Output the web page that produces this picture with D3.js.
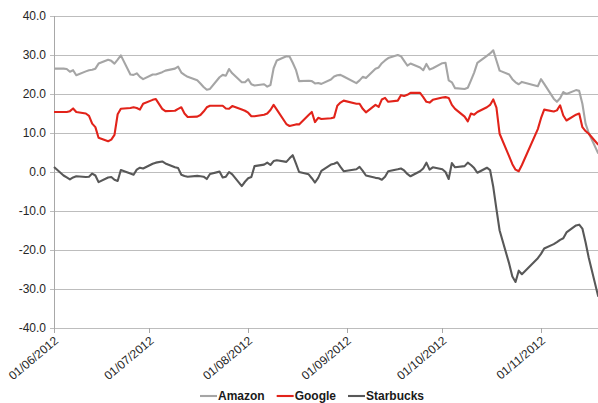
<!DOCTYPE html>
<html>
<head>
<meta charset="utf-8">
<script src="https://cdn.jsdelivr.net/npm/d3@7"></script>
<style>
  body { margin: 0; background: #fff; }
  svg { display: block; font-family: "Liberation Sans", Arial, sans-serif; }
</style>
</head>
<body>
<svg id="chart"></svg>
<script>
// trading days, one row per month
const dates = [
  "2012-06-01","2012-06-04","2012-06-05","2012-06-06","2012-06-07","2012-06-08","2012-06-11","2012-06-12","2012-06-13","2012-06-14","2012-06-15","2012-06-18","2012-06-19","2012-06-20","2012-06-21","2012-06-22","2012-06-25","2012-06-26","2012-06-27","2012-06-28","2012-06-29",
  "2012-07-02","2012-07-03","2012-07-05","2012-07-06","2012-07-09","2012-07-10","2012-07-11","2012-07-12","2012-07-13","2012-07-16","2012-07-17","2012-07-18","2012-07-19","2012-07-20","2012-07-23","2012-07-24","2012-07-25","2012-07-26","2012-07-27","2012-07-30","2012-07-31",
  "2012-08-01","2012-08-02","2012-08-03","2012-08-06","2012-08-07","2012-08-08","2012-08-09","2012-08-10","2012-08-13","2012-08-14","2012-08-15","2012-08-16","2012-08-17","2012-08-20","2012-08-21","2012-08-22","2012-08-23","2012-08-24","2012-08-27","2012-08-28","2012-08-29","2012-08-30","2012-08-31",
  "2012-09-04","2012-09-05","2012-09-06","2012-09-07","2012-09-10","2012-09-11","2012-09-12","2012-09-13","2012-09-14","2012-09-17","2012-09-18","2012-09-19","2012-09-20","2012-09-21","2012-09-24","2012-09-25","2012-09-26","2012-09-27","2012-09-28",
  "2012-10-01","2012-10-02","2012-10-03","2012-10-04","2012-10-05","2012-10-08","2012-10-09","2012-10-10","2012-10-11","2012-10-12","2012-10-15","2012-10-16","2012-10-17","2012-10-18","2012-10-19","2012-10-22","2012-10-23","2012-10-24","2012-10-25","2012-10-26","2012-10-31",
  "2012-11-01","2012-11-02","2012-11-05","2012-11-06","2012-11-07","2012-11-08","2012-11-09","2012-11-12","2012-11-13","2012-11-14","2012-11-15","2012-11-16","2012-11-19"
];

const amazon = [
  26.5,26.5,26.4,25.7,26.1,24.8,25.8,26.1,26.2,26.5,27.8,28.8,28.5,27.8,28.8,29.9,25.0,24.9,25.3,24.4,23.8,
  25.0,25.0,25.6,26.0,26.5,27.0,25.5,24.9,24.4,23.5,22.7,21.8,21.1,21.3,24.3,24.9,24.7,26.4,25.3,23.0,23.0,
  23.8,22.5,22.2,22.5,21.9,22.3,26.6,28.6,29.7,29.6,28.0,26.2,23.3,23.4,23.3,22.7,22.8,22.6,23.7,24.5,24.8,24.9,24.5,
  22.8,23.5,24.4,24.1,26.5,26.8,27.9,28.6,29.2,30.0,29.7,28.5,27.3,27.8,26.8,26.1,27.7,26.3,26.6,
  27.9,28.0,23.5,23.0,21.5,21.3,21.6,23.5,25.5,28.0,29.8,30.4,31.2,28.6,26.0,25.0,23.8,23.0,22.5,23.1,22.0,
  23.8,22.6,18.8,18.0,18.9,20.5,20.0,21.0,20.8,17.5,12.4,10.0,4.7
];

const google = [
  15.4,15.4,15.4,15.6,16.3,15.4,15.0,14.4,12.4,11.5,8.8,7.9,8.3,9.5,14.8,16.2,16.4,16.6,16.4,16.0,17.5,
  18.5,18.7,16.2,15.6,15.7,16.2,16.6,15.0,14.1,14.2,14.6,15.5,16.6,17.0,17.0,17.0,16.3,16.2,16.9,16.0,15.7,
  15.2,14.3,14.3,14.7,15.0,15.9,17.2,16.0,12.3,11.8,12.0,12.2,12.2,14.6,15.4,12.8,13.9,13.6,13.8,14.0,17.0,17.8,18.3,
  17.5,17.5,16.2,15.3,17.2,16.7,18.6,19.0,18.0,18.3,19.7,19.5,19.8,20.3,20.3,19.2,18.0,17.8,18.5,
  19.1,19.2,19.0,17.2,16.2,14.2,13.0,15.0,14.7,15.4,16.6,17.2,18.6,16.5,9.8,4.0,2.0,0.6,0.2,1.8,11.0,
  13.8,16.0,15.5,15.8,17.1,14.5,13.2,14.7,15.0,11.5,10.5,9.8,7.0
];

const starbucks = [
  1.3,-0.9,-1.4,-1.9,-1.4,-1.1,-1.3,-1.2,-0.4,-0.9,-2.6,-1.4,-1.3,-2.0,-2.3,0.5,-0.4,-0.7,0.6,1.1,0.9,
  2.1,2.4,2.7,2.2,1.2,1.0,-0.7,-1.0,-1.2,-1.0,-1.1,-1.2,-1.8,-0.5,0.1,-1.4,-1.2,0.0,-0.6,-3.6,-2.5,
  -1.6,-1.3,1.5,1.9,2.4,1.8,2.8,3.0,2.6,3.5,4.3,2.2,0.0,-0.6,-1.6,-2.7,-1.5,0.3,1.9,2.1,2.5,1.3,0.2,
  0.7,1.3,0.3,-0.9,-1.5,-1.6,-2.0,-1.2,0.2,0.7,0.9,0.4,-0.5,-1.1,0.2,0.9,2.4,0.6,1.2,
  0.7,0.0,-1.8,2.3,1.2,1.5,2.4,1.8,1.0,-0.2,1.1,0.5,-3.8,-9.5,-15.0,-23.5,-26.8,-28.2,-25.3,-26.2,-22.1,
  -21.0,-19.6,-18.5,-18.0,-17.4,-17.0,-15.5,-13.7,-13.5,-14.5,-18.0,-22.0,-32.0
];

const seriesNames = ["Amazon", "Google", "Starbucks"];
const seriesColors = ["#a5a5a5", "#e2231a", "#585858"];

const yTicks = [40, 30, 20, 10, 0, -10, -20, -30, -40];
const monthTicks = ["2012-06-01", "2012-07-01", "2012-08-01", "2012-09-01", "2012-10-01", "2012-11-01"];
const dateEnd = "2012-11-19";

const width = 598;
const height = 403;
const plotLeft = 54, plotRight = 598.3, plotTop = 16, plotBottom = 328;

const parse = d3.timeParse("%Y-%m-%d");
const fmt = d3.timeFormat("%d/%m/%Y");
const days = dates.map(parse);

const svg = d3.select("#chart").attr("width", width).attr("height", height);

const x = d3.scaleTime().domain([parse(dates[0]), parse(dateEnd)]).range([plotLeft, plotRight]);
const y = d3.scaleLinear().domain([-40, 40]).range([plotBottom, plotTop]);

// horizontal gridlines
svg.append("g")
  .selectAll("line")
  .data(yTicks)
  .enter()
  .append("line")
  .attr("x1", plotLeft - 4)
  .attr("x2", width)
  .attr("y1", d => Math.round(y(d)) + 0.5)
  .attr("y2", d => Math.round(y(d)) + 0.5)
  .attr("stroke", "#bdbdbd")
  .attr("stroke-width", 1);

// y axis line
svg.append("line")
  .attr("x1", plotLeft + 0.5).attr("x2", plotLeft + 0.5)
  .attr("y1", plotTop).attr("y2", plotBottom + 1)
  .attr("stroke", "#a8a8a8");

// y labels
svg.append("g")
  .selectAll("text")
  .data(yTicks)
  .enter()
  .append("text")
  .attr("x", plotLeft - 8)
  .attr("y", d => y(d))
  .attr("dy", "0.35em")
  .attr("text-anchor", "end")
  .style("font-size", "12px")
  .style("fill", "#262626")
  .text(d => d.toFixed(1));

// month ticks below the axis
svg.append("g")
  .selectAll("line")
  .data(monthTicks)
  .enter()
  .append("line")
  .attr("x1", d => Math.round(x(parse(d))) + 0.5)
  .attr("x2", d => Math.round(x(parse(d))) + 0.5)
  .attr("y1", plotBottom)
  .attr("y2", plotBottom + 5)
  .attr("stroke", "#a8a8a8");

svg.append("g")
  .selectAll("text")
  .data(monthTicks)
  .enter()
  .append("text")
  .attr("transform", d => `translate(${x(parse(d)) + 5}, ${plotBottom + 14}) rotate(-40)`)
  .attr("text-anchor", "end")
  .style("font-size", "12px")
  .style("fill", "#262626")
  .text(d => fmt(parse(d)));

// series lines
const line = d3.line()
  .x((d, i) => x(days[i]))
  .y(d => y(d));

[amazon, google, starbucks].forEach((values, k) => {
  svg.append("path")
    .datum(values)
    .attr("d", line)
    .attr("fill", "none")
    .attr("stroke", seriesColors[k])
    .attr("stroke-width", 2.1)
    .attr("stroke-linejoin", "round");
});

// legend
const legend = svg.append("g").attr("transform", "translate(0, 396)");
let lx = 200;
seriesNames.forEach((name, k) => {
  legend.append("line")
    .attr("x1", lx).attr("x2", lx + 17)
    .attr("y1", 0).attr("y2", 0)
    .attr("stroke", seriesColors[k])
    .attr("stroke-width", 2.1);
  const t = legend.append("text")
    .attr("x", lx + 18)
    .attr("y", 0)
    .attr("dy", "0.35em")
    .style("font-size", "12px")
    .style("font-weight", "bold")
    .style("fill", "#1a1a1a")
    .text(name);
  lx += 18 + t.node().getComputedTextLength() + 12;
});
</script>
</body>
</html>
